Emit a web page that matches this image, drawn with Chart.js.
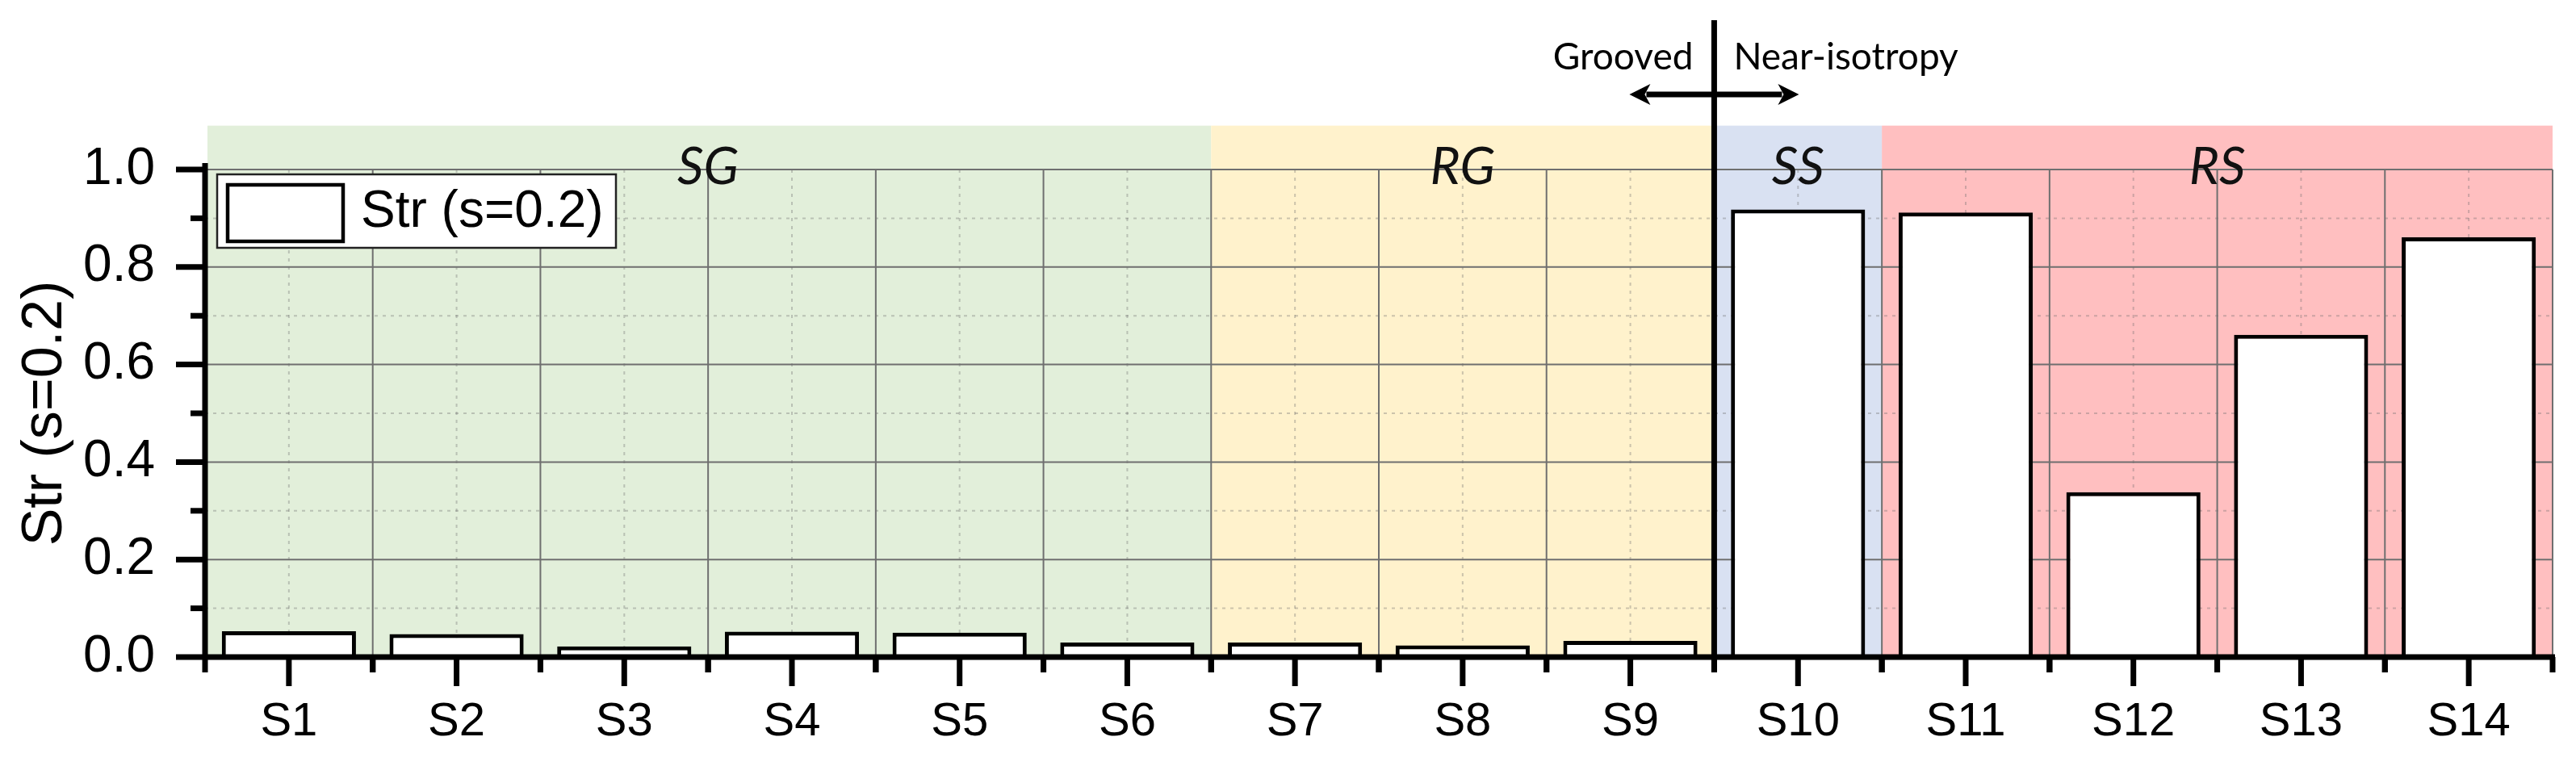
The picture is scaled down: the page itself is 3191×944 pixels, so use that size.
<!DOCTYPE html>
<html>
<head>
<meta charset="utf-8">
<script src="https://cdn.jsdelivr.net/npm/chart.js@4.4.1/dist/chart.umd.min.js"></script>
<style>
  html, body { margin: 0; padding: 0; background: #fff; overflow: hidden; }
  canvas { display: block; }
</style>
</head>
<body>
<canvas id="strChart" width="3191" height="944" style="width:3191px;height:944px"></canvas>
<script>
// ========== DADOS ==========
const amostras = ['S1', 'S2', 'S3', 'S4', 'S5', 'S6', 'S7', 'S8', 'S9', 'S10', 'S11', 'S12', 'S13', 'S14'];
const valoresStr = [0.053, 0.047, 0.022, 0.052, 0.050, 0.030, 0.030, 0.024, 0.033, 0.918, 0.912, 0.338, 0.661, 0.861];
const rotuloSerie = 'Str (s=0.2)';

const yMaiores = [0, 0.2, 0.4, 0.6, 0.8, 1.0];
const yMenores = [0.1, 0.3, 0.5, 0.7, 0.9];

// grupos de superficie (indice da primeira e ultima amostra)
const regioes = ['SG', 'RG', 'SS', 'RS'];
const regiaoInicio = [0, 6, 9, 10];
const regiaoFim = [5, 8, 9, 13];
const regiaoCores = ['#e2efda', '#fff2cc', '#d9e1f2', '#ffbfc0'];
const topoSombra = 1.09;      // valor do eixo y onde termina o fundo colorido
const divisaoApos = 8;        // linha vertical entre S9 e S10

const FONTE = '"Liberation Sans", Arial, sans-serif';
const FONTE_NOTA = 'Lato, "Open Sans", sans-serif';

// ========== AUXILIARES ==========
function bordas(x, i) {
    const c = x.getPixelForValue(i);
    const meia = (x.getPixelForValue(1) - x.getPixelForValue(0)) / 2;
    return [c - meia, c + meia];
}

function linha(ctx, x0, y0, x1, y1) {
    ctx.beginPath();
    ctx.moveTo(x0, y0);
    ctx.lineTo(x1, y1);
    ctx.stroke();
}

// ========== PLUGIN: FUNDO E GRADE ==========
const fundoPlugin = {
    id: 'fundo',
    beforeDatasetsDraw(chart) {
        const { ctx, chartArea: a, scales: { x, y } } = chart;
        const topo = y.getPixelForValue(topoSombra);
        ctx.save();

        regioes.forEach((nome, k) => {
            const x0 = Math.max(bordas(x, regiaoInicio[k])[0], a.left + 3);
            const x1 = bordas(x, regiaoFim[k])[1];
            ctx.fillStyle = regiaoCores[k];
            ctx.fillRect(x0, topo, x1 - x0, a.bottom - topo);
        });

        // grade secundaria pontilhada
        ctx.strokeStyle = 'rgba(110, 110, 110, 0.35)';
        ctx.lineWidth = 2;
        ctx.setLineDash([4, 6]);
        yMenores.forEach(v => {
            const py = y.getPixelForValue(v);
            linha(ctx, a.left, py, a.right, py);
        });
        amostras.forEach((_, i) => {
            const px = x.getPixelForValue(i);
            linha(ctx, px, a.top, px, a.bottom);
        });

        // grade principal
        ctx.setLineDash([]);
        ctx.strokeStyle = '#6f6f6f';
        ctx.lineWidth = 2;
        yMaiores.slice(1).forEach(v => {
            const py = y.getPixelForValue(v);
            linha(ctx, a.left, py, a.right, py);
        });
        amostras.forEach((_, i) => {
            const px = bordas(x, i)[1];
            linha(ctx, px, a.top, px, a.bottom);
        });

        // nomes dos grupos
        ctx.fillStyle = '#111';
        ctx.font = 'italic 64px ' + FONTE_NOTA;
        ctx.textAlign = 'center';
        ctx.textBaseline = 'alphabetic';
        regioes.forEach((nome, k) => {
            const cx = (bordas(x, regiaoInicio[k])[0] + bordas(x, regiaoFim[k])[1]) / 2;
            ctx.fillText(nome, cx, a.top + 18);
        });
        ctx.restore();
    }
};

// ========== PLUGIN: EIXOS, MARCAS, LEGENDA ==========
const eixosPlugin = {
    id: 'eixos',
    afterDatasetsDraw(chart) {
        const { ctx, chartArea: a, scales: { x, y } } = chart;
        ctx.save();
        ctx.strokeStyle = '#000';
        ctx.fillStyle = '#000';
        ctx.lineWidth = 7;
        ctx.lineCap = 'butt';

        // marcas do eixo y
        yMaiores.forEach(v => {
            const py = y.getPixelForValue(v);
            linha(ctx, a.left - 36, py, a.left, py);
        });
        yMenores.forEach(v => {
            const py = y.getPixelForValue(v);
            linha(ctx, a.left - 18, py, a.left, py);
        });

        // marcas do eixo x
        amostras.forEach((_, i) => {
            const px = x.getPixelForValue(i);
            linha(ctx, px, a.bottom, px, a.bottom + 36);
            const b = bordas(x, i);
            linha(ctx, b[0], a.bottom, b[0], a.bottom + 19);
            linha(ctx, b[1], a.bottom, b[1], a.bottom + 19);
        });

        // linhas dos eixos
        linha(ctx, a.left, a.top - 8, a.left, a.bottom + 3);
        linha(ctx, a.left - 3, a.bottom, a.right + 3, a.bottom);

        // divisao Grooved / Near-isotropy
        const xd = bordas(x, divisaoApos)[1];
        linha(ctx, xd, 25, xd, a.bottom);

        const ya = 117;
        ctx.lineWidth = 7;
        linha(ctx, xd - 84, ya, xd + 84, ya);
        [[-1, xd - 105], [1, xd + 105]].forEach(([s, ponta]) => {
            ctx.beginPath();
            ctx.moveTo(ponta, ya);
            ctx.lineTo(ponta - s * 26, ya - 13);
            ctx.lineTo(ponta - s * 19, ya);
            ctx.lineTo(ponta - s * 26, ya + 13);
            ctx.closePath();
            ctx.fill();
        });

        ctx.font = '46px ' + FONTE_NOTA;
        ctx.textBaseline = 'alphabetic';
        ctx.textAlign = 'right';
        ctx.fillText('Grooved', xd - 26, 86);
        ctx.textAlign = 'left';
        ctx.fillText('Near-isotropy', xd + 24, 86);

        // legenda
        const lx = a.left + 15, ly = a.top + 6, lw = 494, lh = 91;
        ctx.fillStyle = '#fff';
        ctx.fillRect(lx, ly, lw, lh);
        ctx.lineWidth = 2.5;
        ctx.strokeStyle = '#222';
        ctx.strokeRect(lx, ly, lw, lh);
        ctx.lineWidth = 4.5;
        ctx.strokeStyle = '#000';
        ctx.strokeRect(lx + 13, ly + 13, 143, 70);
        ctx.fillStyle = '#000';
        ctx.font = '64px ' + FONTE;
        ctx.textAlign = 'left';
        ctx.textBaseline = 'middle';
        ctx.fillText(chart.data.datasets[0].label, lx + 178, ly + lh / 2 + 2);
        ctx.restore();
    }
};

// ========== GRAFICO ==========
const ctxStr = document.getElementById('strChart');
const strChart = new Chart(ctxStr.getContext('2d'), {
    type: 'bar',
    data: {
        labels: amostras,
        datasets: [{
            label: rotuloSerie,
            data: valoresStr,
            backgroundColor: '#ffffff',
            borderColor: '#000000',
            borderWidth: 5,
            barPercentage: 0.8,
            categoryPercentage: 1.0
        }]
    },
    options: {
        responsive: false,
        devicePixelRatio: 1,
        animation: false,
        layout: { padding: { top: 210, right: 29, left: 0, bottom: 0 } },
        plugins: {
            legend: { display: false },
            tooltip: { enabled: false }
        },
        scales: {
            x: {
                type: 'category',
                offset: true,
                grid: { display: false, drawTicks: false },
                border: { display: false },
                ticks: {
                    color: '#000',
                    font: { size: 58, family: FONTE },
                    padding: 46,
                    autoSkip: false,
                    maxRotation: 0
                },
                afterFit(scale) { scale.height = 130; }
            },
            y: {
                min: 0,
                max: 1.0,
                grid: { display: false, drawTicks: false },
                border: { display: false },
                afterBuildTicks(scale) {
                    scale.ticks = yMaiores.concat(yMenores).sort((p, q) => p - q).map(v => ({ value: v }));
                },
                ticks: {
                    color: '#000',
                    font: { size: 64, family: FONTE },
                    padding: 62,
                    autoSkip: false,
                    callback: function(value) {
                        return yMaiores.includes(value) ? value.toFixed(1) : '';
                    }
                },
                title: {
                    display: true,
                    text: rotuloSerie,
                    color: '#000',
                    font: { size: 70, family: FONTE },
                    padding: { top: 15, bottom: 0 }
                },
                afterFit(scale) { scale.width = 254; }
            }
        }
    },
    plugins: [fundoPlugin, eixosPlugin]
});
</script>
</body>
</html>
